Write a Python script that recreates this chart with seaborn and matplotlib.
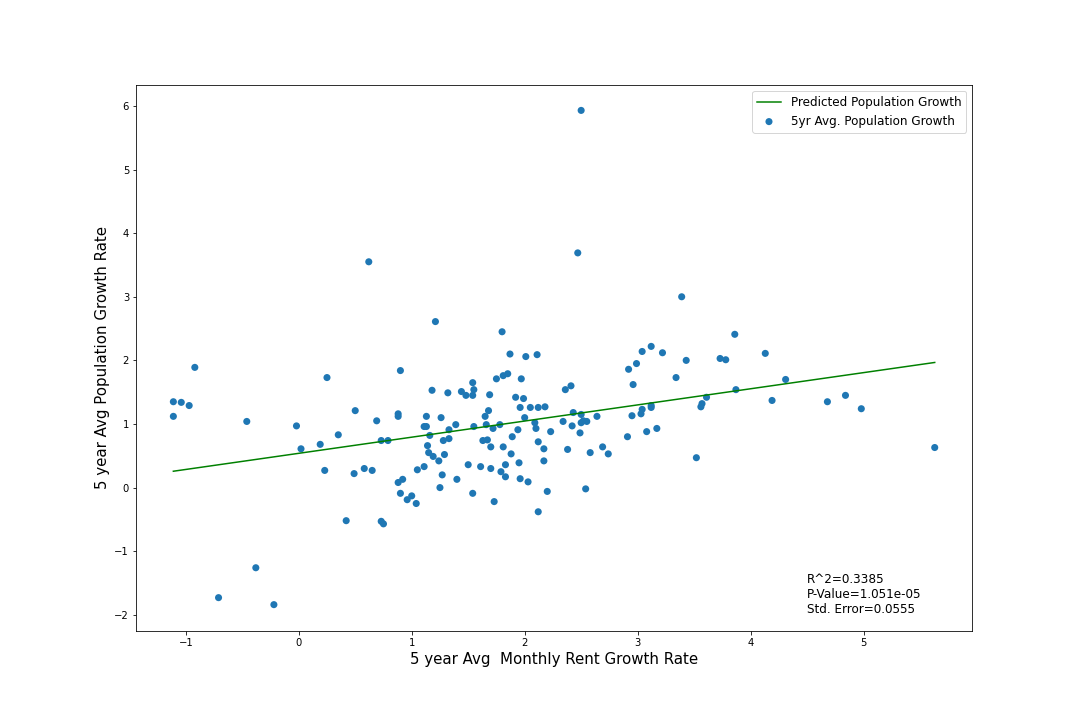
import matplotlib
matplotlib.use("Agg")
import matplotlib.pyplot as plt
import seaborn as sns
import numpy as np
import pandas as pd

rent = [-1.11,-1.04,-1.11,-0.97,-0.92,-0.71,-0.46,-0.38,-0.22,-0.02,0.02,0.19,0.23,0.25,0.35,0.42,0.49,0.50,0.58,0.62,0.65,0.69,0.73,0.73,0.75,0.79,0.88,0.88,0.88,0.90,0.90,0.92,0.96,1.00,1.04,1.05,1.11,1.11,1.13,1.13,1.14,1.15,1.16,1.18,1.19,1.21,1.24,1.25,1.26,1.27,1.28,1.29,1.32,1.33,1.33,1.39,1.40,1.44,1.48,1.50,1.54,1.54,1.54,1.55,1.55,1.61,1.63,1.65,1.66,1.67,1.68,1.69,1.70,1.70,1.72,1.73,1.75,1.78,1.79,1.80,1.81,1.81,1.83,1.83,1.85,1.87,1.88,1.89,1.92,1.94,1.95,1.96,1.96,1.97,1.99,2.00,2.01,2.03,2.05,2.09,2.10,2.11,2.12,2.12,2.12,2.17,2.17,2.18,2.20,2.23,2.34,2.36,2.38,2.41,2.42,2.43,2.47,2.49,2.50,2.50,2.50,2.52,2.54,2.55,2.58,2.64,2.69,2.74,2.91,2.92,2.95,2.96,2.99,3.03,3.04,3.04,3.08,3.12,3.12,3.12,3.17,3.22,3.34,3.39,3.43,3.52,3.56,3.57,3.61,3.73,3.78,3.86,3.87,4.13,4.19,4.31,4.68,4.84,4.98,5.63]
pop = [1.35,1.34,1.12,1.29,1.89,-1.73,1.04,-1.26,-1.84,0.97,0.61,0.68,0.27,1.73,0.83,-0.52,0.22,1.21,0.30,3.55,0.27,1.05,0.74,-0.53,-0.57,0.74,0.08,1.12,1.16,1.84,-0.09,0.13,-0.19,-0.13,-0.25,0.28,0.33,0.96,1.12,0.96,0.66,0.55,0.82,1.53,0.49,2.61,0.42,0.00,1.10,0.20,0.74,0.52,1.49,0.91,0.77,0.99,0.13,1.51,1.45,0.36,1.45,1.65,-0.09,1.54,0.96,0.33,0.74,1.12,0.99,0.75,1.21,1.46,0.64,0.30,0.93,-0.22,1.71,0.99,0.25,2.45,1.76,0.64,0.17,0.36,1.79,2.10,0.53,0.80,1.42,0.91,0.39,1.26,0.14,1.71,1.40,1.10,2.06,0.09,1.26,1.02,0.93,2.09,1.26,0.72,-0.38,0.61,0.42,1.27,-0.06,0.88,1.04,1.54,0.60,1.60,0.97,1.18,3.69,0.86,5.93,1.15,1.02,1.05,-0.02,1.04,0.55,1.12,0.64,0.53,0.80,1.86,1.13,1.62,1.95,1.16,1.23,2.14,0.88,2.22,1.29,1.26,0.93,2.12,1.73,3.00,2.00,0.47,1.27,1.32,1.42,2.03,2.01,2.41,1.54,2.11,1.37,1.70,1.35,1.45,1.24,0.63]
slope = 0.2537
intercept = 0.539
stats_text = "R^2=0.3385\nP-Value=1.051e-05\nStd. Error=0.0555"

df = pd.DataFrame({"rent": rent, "pop": pop})
df["pred"] = intercept + slope * df["rent"]

fig = plt.figure(figsize=(15, 10), dpi=72)
ax = fig.add_axes([0.126, 0.124, 0.774, 0.758])
sns.lineplot(data=df, x="rent", y="pred", ax=ax, color="green", label="Predicted Population Growth", estimator=None)
sns.scatterplot(data=df, x="rent", y="pop", ax=ax, color="#1f77b4", s=50, edgecolor="none", label="5yr Avg. Population Growth")
ax.set_xlim(-1.44, 5.96)
ax.set_ylim(-2.25, 6.33)
ax.set_xticks(range(-1, 6))
ax.set_yticks(range(-2, 7))
ax.tick_params(labelsize=10)
ax.set_xlabel("5 year Avg  Monthly Rent Growth Rate", fontsize=15)
ax.set_ylabel("5 year Avg Population Growth Rate", fontsize=15)
ax.legend(loc="upper right", fontsize=12)
ax.text(4.5, -1.35, stats_text, fontsize=12, va="top")
fig.savefig("out.png", dpi=72)
